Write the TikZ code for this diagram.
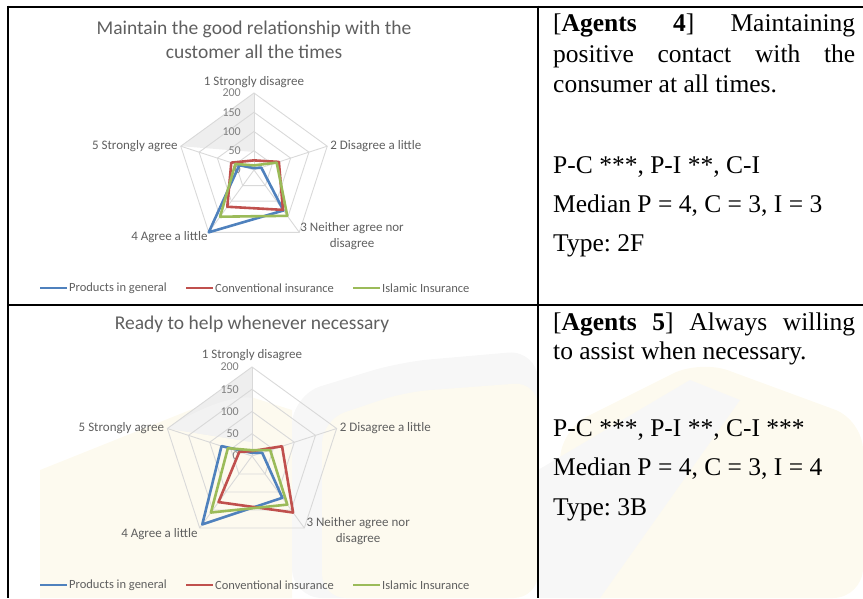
\documentclass[tikz,border=0pt]{standalone}
\usepackage{fontspec}
\setmainfont{Liberation Serif}
\newfontfamily\chartfont{Carlito}
\usetikzlibrary{positioning,calc}
\definecolor{pblue}{HTML}{4F81BD}
\definecolor{cred}{HTML}{C0504D}
\definecolor{igreen}{HTML}{9BBB59}
\definecolor{gridgray}{HTML}{D9D9D9}
\definecolor{labgray}{HTML}{5F5F5F}
\definecolor{numgray}{HTML}{7F7F7F}
\definecolor{wmcream}{HTML}{FDFAEF}
\definecolor{wmgray}{HTML}{F7F7F7}
\frenchspacing

% grid of one radar chart, #1 = prefix of the value labels
\newcommand\radargrid[1]{%
  \foreach \r in {0.25,0.5,0.75,1}
    \draw[rgrid] (90:\r*\rad) -- (18:\r*\rad) -- (-54:\r*\rad) -- (-126:\r*\rad) -- (162:\r*\rad) -- cycle;
  \foreach \a in {90,18,-54,-126,162}
    \draw[rgrid] (0,0) -- (\a:\rad);
  \foreach \v [count=\i from 0] in {0,50,100,150,200}
    \node[numlab] (#1v\i) at (-13,\i*\rad/4) {\v};
}
% one series: colour, then the values on axes 1..5
\newcommand\series[6]{%
  \draw[ser,#1] (90:#2/200*\rad) -- (18:#3/200*\rad) -- (-54:#4/200*\rad)
    -- (-126:#5/200*\rad) -- (162:#6/200*\rad) -- cycle;}

\begin{document}
\begin{tikzpicture}[x=1pt,y=-1pt,
    rgrid/.style={draw=gridgray,line width=0.9pt},
    ser/.style={line width=2.6pt,line join=round},
    lab/.style={font=\chartfont\fontsize{13}{16}\selectfont,text=labgray,inner sep=0pt},
    leg/.style={font=\chartfont\fontsize{12.5}{15}\selectfont,text=labgray,inner sep=0pt,anchor=west},
    numlab/.style={font=\chartfont\fontsize{12}{14}\selectfont,text=numgray,inner sep=0pt,anchor=east},
    ttl/.style={font=\chartfont\fontsize{19.5}{24}\selectfont,text=labgray,align=center,inner sep=0pt},
    txt/.style={font=\fontsize{25.5}{30}\selectfont,inner sep=0pt,anchor=base west},
    tline/.style={line width=2pt},
    wedge/.style={fill=gray!13}]
  \useasboundingbox (0,0) rectangle (863,598);

  % watermark, lower row
  \fill[wmcream] (40,598) -- (40,470) -- (235,392) -- (292,410) -- (292,598) -- cycle;
  \fill[wmgray,rounded corners=30pt] (292,598) -- (292,395) -- (400,362) -- (538,350) -- (538,598) -- cycle;
  \fill[wmcream,rounded corners=24pt] (322,598) -- (322,420) -- (405,392) -- (538,382) -- (538,598) -- cycle;
  \fill[wmcream,rounded corners=30pt] (560,598) -- (560,430) -- (700,360) -- (863,420) -- (863,598) -- cycle;
  \fill[wmgray] (538,470) -- (690,380) -- (740,400) -- (600,598) -- (538,598) -- cycle;

  % table rules
  \draw[tline] (7,6.5) -- (863,6.5);
  \draw[tline] (8,5.5) -- (8,598);
  \draw[tline] (538,5.5) -- (538,598);
  \draw[tline] (7,305) -- (863,305);

  % first chart
  \node[ttl] (t1) at (254,40) {Maintain the good relationship with the\\customer all the times};
  \begin{scope}[shift={(254,170)},y=1pt]
    \def\rad{77}
    \fill[wedge] (90:\rad) -- (162:\rad) -- (90:18) -- cycle;
    \radargrid{a}
    \series{pblue}{5}{20}{130}{200}{40}
    \series{cred}{25}{68}{128}{118}{62}
    \series{igreen}{12}{62}{147}{150}{51}
    \node[lab,anchor=south] (a1) at (0,\rad+5) {1 Strongly disagree};
    \node[lab,anchor=west,xshift=3] (a2) at (18:\rad) {2 Disagree a little};
    \node[lab,anchor=north west,align=center,yshift=10,xshift=1] (a3) at (-54:\rad) {3 Neither agree nor\\disagree};
    \node[lab,anchor=east,yshift=-5,xshift=-1] (a4) at (-126:\rad) {4 Agree a little};
    \node[lab,anchor=east,xshift=-3] (a5) at (162:\rad) {5 Strongly agree};
  \end{scope}
  \node[leg] (la1) at (69,288) {Products in general};
  \node[leg] (la2) at (215,288) {Conventional insurance};
  \node[leg] (la3) at (382,288) {Islamic Insurance};
  \draw[ser,pblue] ([xshift=-2]la1.west) -- ++(-27,0);
  \draw[ser,cred] ([xshift=-2]la2.west) -- ++(-27,0);
  \draw[ser,igreen] ([xshift=-2]la3.west) -- ++(-27,0);

  % second chart
  \node[ttl] (t2) at (252,324) {Ready to help whenever necessary};
  \begin{scope}[shift={(252,456)},y=1pt]
    \def\rad{89}
    \fill[wedge] (90:\rad) -- (162:\rad) -- (90:14) -- cycle;
    \fill[gray!10] (162:\rad) .. controls (130:70) and (100:62) .. (90:58) -- (90:14) -- cycle;
    \radargrid{b}
    \series{pblue}{7}{24}{116}{190}{72}
    \series{cred}{11}{71}{157}{128}{30}
    \series{igreen}{13}{43}{135}{157}{57}
    \node[lab,anchor=south] (b1) at (0,\rad+6) {1 Strongly disagree};
    \node[lab,anchor=west,xshift=3] (b2) at (18:\rad) {2 Disagree a little};
    \node[lab,anchor=north west,align=center,yshift=11,xshift=2] (b3) at (-54:\rad) {3 Neither agree nor\\disagree};
    \node[lab,anchor=east,yshift=-6,xshift=-2] (b4) at (-126:\rad) {4 Agree a little};
    \node[lab,anchor=east,xshift=-3] (b5) at (162:\rad) {5 Strongly agree};
  \end{scope}
  \node[leg] (lb1) at (69,585) {Products in general};
  \node[leg] (lb2) at (215,585) {Conventional insurance};
  \node[leg] (lb3) at (382,585) {Islamic Insurance};
  \draw[ser,pblue] ([xshift=-2]lb1.west) -- ++(-27,0);
  \draw[ser,cred] ([xshift=-2]lb2.west) -- ++(-27,0);
  \draw[ser,igreen] ([xshift=-2]lb3.west) -- ++(-27,0);

  % right column
  \node[txt] (d4a) at (553,31) {\makebox[302pt][s]{[\textbf{Agents} \textbf{4}] Maintaining}};
  \node[txt] (d4b) at (553,62) {\makebox[302pt][s]{positive contact with the}};
  \node[txt] (d4c) at (553,92) {consumer at all times.};
  \node[txt] (s4) at (553,173) {P-C ***, P-I **, C-I};
  \node[txt] (m4) at (553,212) {Median P = 4, C = 3, I = 3};
  \node[txt] (y4) at (553,251) {Type: 2F};

  \node[txt] (d5a) at (553,330) {\makebox[302pt][s]{[\textbf{Agents} \textbf{5}] Always willing}};
  \node[txt] (d5b) at (553,359) {to assist when necessary.};
  \node[txt] (s5) at (553,436) {P-C ***, P-I **, C-I ***};
  \node[txt] (m5) at (553,475) {Median P = 4, C = 3, I = 4};
  \node[txt] (y5) at (553,515) {Type: 3B};
\end{tikzpicture}
\end{document}
